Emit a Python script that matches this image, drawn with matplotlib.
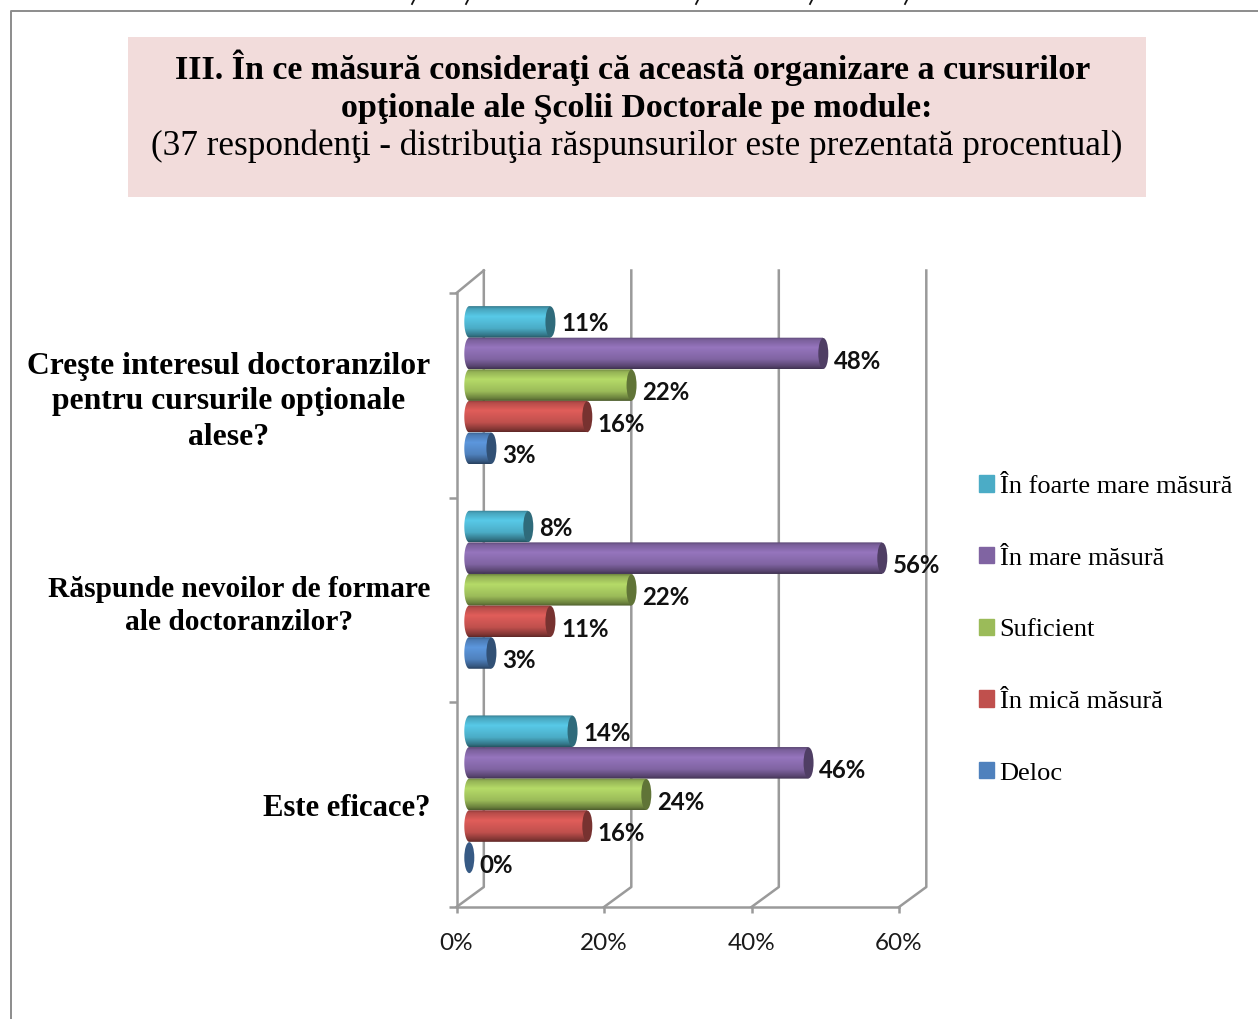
import numpy as np
import matplotlib
matplotlib.use('Agg')
import matplotlib.pyplot as plt
import matplotlib.patches as mpatches
import matplotlib.lines as mlines
from matplotlib.colors import to_rgb

W, H = 1258, 1019
GRAY = '#9a9a9a'

categories = ['Este eficace?',
              'Răspunde nevoilor de formare\nale doctoranzilor?',
              'Creşte interesul doctoranzilor\npentru cursurile opţionale\nalese?']
series = ['În foarte mare măsură', 'În mare măsură', 'Suficient', 'În mică măsură', 'Deloc']
colors = ['#4bacc6', '#8064a2', '#9bbb59', '#c0504d', '#4f81bd']
# one list per series, same order as categories
foarte_mare = [14, 8, 11]
mare = [46, 56, 48]
suficient = [24, 22, 22]
mica = [16, 11, 16]
deloc = [0, 3, 3]
values = [foarte_mare, mare, suficient, mica, deloc]
xticks = [0, 20, 40, 60]

plt.rcParams['font.family'] = 'Lato'
fig = plt.figure(figsize=(W / 100, H / 100), dpi=100)

# page frame, pink title box
fig.add_artist(mlines.Line2D([11 / W, 11 / W, 1], [0, 1 - 11 / H, 1 - 11 / H], color='#8c8c8c', lw=1.4))
fig.add_artist(mpatches.Rectangle((128 / W, 1 - 197 / H), 1018 / W, 160 / H, color='#f2dcdb', lw=0))
fig.text(633 / W, 1 - 68 / H, 'III. În ce măsură consideraţi că această organizare a cursurilor',
         family='Liberation Serif', weight='bold', fontsize=24.5, ha='center', va='center')
fig.text(637 / W, 1 - 108.5 / H, 'opţionale ale Şcolii Doctorale pe module:',
         family='Liberation Serif', weight='bold', fontsize=24.5, ha='center', va='center')
fig.text(637 / W, 1 - 146 / H, '(37 respondenţi - distribuţia răspunsurilor este prezentată procentual)',
         family='Liberation Serif', fontsize=25.3, ha='center', va='center')

# bits of the line cropped off at the top of the page
for xp in [413, 467, 697, 811, 906]:
    fig.add_artist(mlines.Line2D([(xp + 1) / W, (xp - 1) / W], [1, 1 - 4 / H], color='#111111', lw=1.3))

# axes box is the front of the 3D floor, pixel positions from the reference
ax = fig.add_axes([456.5 / W, 1 - 907 / H, 442.5 / W, 614 / H])
ax.set_xlim(0, 60)
ax.set_ylim(-0.5, 2.5)
px_x = 60 / 442.5
px_y = 3 / 614

# back walls
dx, dy = 27.3 * px_x, 20 * px_y
wall_top = 2.5 + 22.5 * px_y
for t in xticks:
    ax.plot([t, t + dx, t + dx], [-0.5, -0.5 + dy, wall_top], color=GRAY, lw=1.8, clip_on=False, zorder=1)
ax.plot([0, dx], [2.5, wall_top], color=GRAY, lw=1.8, clip_on=False, zorder=1)

# cylinders
x0 = 12.8 * px_x
rx = 5.0 * px_x
bar_h = 31.6 * px_y
shade_pos = [0, 0.08, 0.32, 0.7, 0.92, 1]
shade_val = [0.72, 0.95, 1.17, 1.0, 0.68, 0.5]
grad = np.interp(np.linspace(0, 1, 64), shade_pos, shade_val)
theta = np.linspace(np.pi / 2, 3 * np.pi / 2, 40)

for j, vals in enumerate(values):
    rgb = np.array(to_rgb(colors[j]))
    img = np.clip(grad[:, None, None] * rgb[None, None, :], 0, 1)
    for i, v in enumerate(vals):
        yc = i + 0.05 + (2 - j) * bar_h
        x1 = x0 + v
        if v > 0:
            im = ax.imshow(img, extent=[x0 - rx, x1, yc - bar_h / 2, yc + bar_h / 2],
                           aspect='auto', origin='upper', zorder=2 + j * 0.1)
            px = np.r_[x1, x0 + rx * np.cos(theta), x1]
            py = np.r_[yc + bar_h / 2, yc + bar_h / 2 * np.sin(theta), yc - bar_h / 2]
            clip = mpatches.Polygon(np.c_[px, py], transform=ax.transData, fc='none', ec='none')
            ax.add_patch(clip)
            im.set_clip_path(clip)
        cap = mpatches.Ellipse((x1, yc), 2 * rx, bar_h * 0.98, fc=rgb * (0.62 if v > 0 else 0.7), ec='none',
                               zorder=2.05 + j * 0.1)
        ax.add_patch(cap)
        ax.annotate('%d%%' % v, (x1 + rx, yc), xytext=(4, -5.5 if j > 0 else -1.5), textcoords='offset points',
                    fontsize=17.3, weight='bold', va='center', ha='left', color='#111111', zorder=5)
ax.set_xlim(0, 60)
ax.set_ylim(-0.5, 2.5)

# axes
for s in ['top', 'right']:
    ax.spines[s].set_visible(False)
for s in ['left', 'bottom']:
    ax.spines[s].set_color(GRAY)
    ax.spines[s].set_linewidth(1.8)
ax.set_xticks(xticks)
ax.set_xticklabels(['%d%%' % t for t in xticks], fontsize=17.5, color='#1a1a1a')
ax.set_yticks(np.arange(-0.5, 3))
ax.set_yticklabels([])
ax.set_yticks(np.arange(3), labels=categories, minor=True)
ax.tick_params(axis='y', which='major', length=6, width=1.8, color=GRAY)
ax.tick_params(axis='y', which='minor', length=0, pad=19)
ax.tick_params(axis='x', length=4, width=1.8, color=GRAY, pad=15)
for lab, fs in zip(ax.get_yticklabels(minor=True), [22.1, 21.2, 22.8]):
    lab.set_family('Liberation Serif')
    lab.set_weight('bold')
    lab.set_fontsize(fs)
    lab.set_multialignment('center')
    lab.set_linespacing(1.28)

# legend
handles = [mpatches.Patch(color=c, label=s) for c, s in zip(colors, series)]
fig.legend(handles=handles, loc='upper left', bbox_to_anchor=(979 / W, 1 - 475.5 / H), frameon=False,
           prop={'family': 'Liberation Serif', 'size': 19}, labelspacing=1.865, handlelength=0.57,
           handleheight=0.57, handletextpad=0.21, borderpad=0, borderaxespad=0)

fig.savefig('out.png', dpi=100)
